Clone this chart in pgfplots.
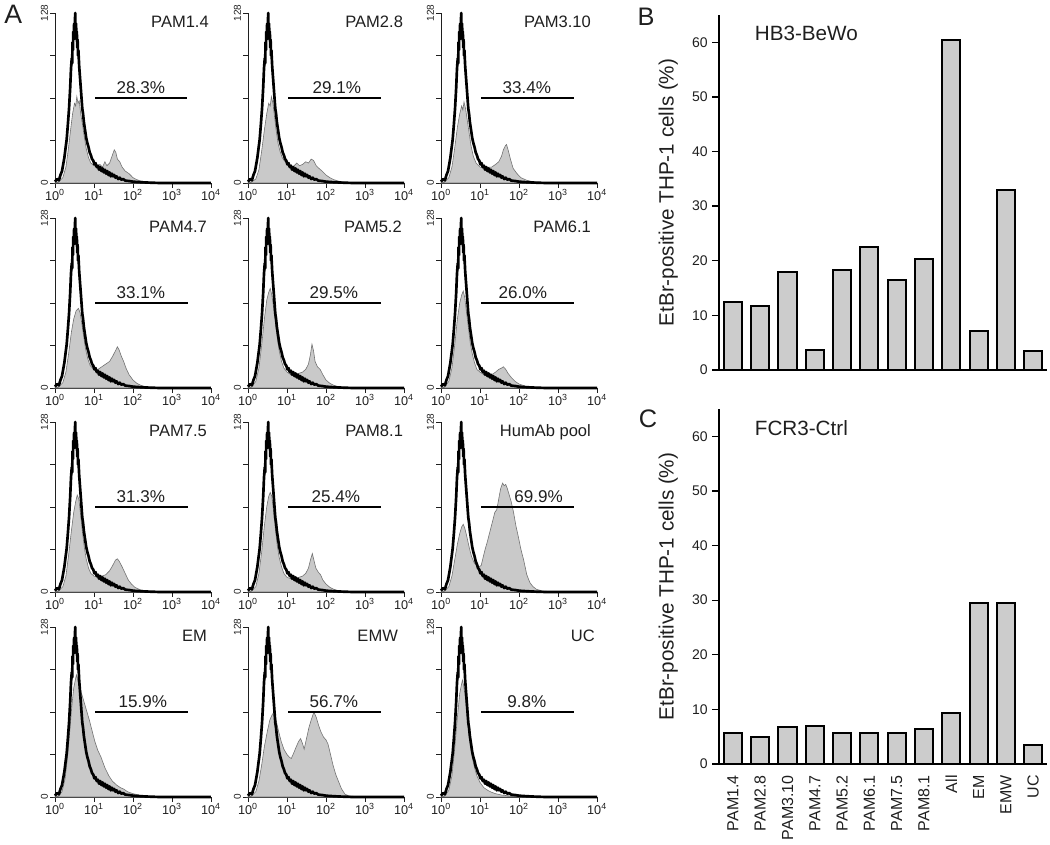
\documentclass[border=0pt]{standalone}
\usepackage{pgfplots}
\pgfplotsset{compat=1.18}
\usepackage{pgfplotstable}
\usepackage{fontspec}
\setmainfont{Liberation Sans}
\setsansfont{Liberation Sans}
\definecolor{bargrey}{gray}{0.80}
\definecolor{histgrey}{gray}{0.79}
\definecolor{txt}{gray}{0.12}

\pgfplotstableread{
x y
0.00 1
0.05 3
0.10 2
0.14 6
0.18 9
0.21 14
0.24 19
0.27 26
0.30 33
0.33 44
0.36 56
0.39 72
0.41 86
0.43 94
0.44 90
0.45 106
0.46 100
0.47 114
0.48 108
0.49 120
0.50 112
0.51 122
0.52 128
0.525 114
0.54 120
0.55 108
0.56 114
0.57 102
0.58 108
0.59 96
0.60 100
0.62 88
0.64 80
0.66 72
0.68 64
0.70 56
0.72 52
0.74 46
0.76 42
0.78 38
0.80 34
0.83 30
0.86 27
0.89 23
0.92 21
0.95 18
0.98 17
1.01 14
1.04 15
1.07 12
1.10 13
1.13 10
1.16 12
1.19 9
1.22 11
1.25 8
1.28 10
1.31 7
1.34 9
1.37 6
1.40 8
1.43 5
1.46 7
1.49 5
1.52 6
1.55 4
1.58 5
1.62 3
1.66 4
1.70 2.5
1.75 3
1.80 1.8
1.90 1.5
2.00 1
2.20 0.6
2.40 0.3
2.70 0
4.00 0
}\ctrltab

\pgfplotstableread{
x y
0.00 0
0.10 1
0.20 4
0.28 12
0.34 25
0.40 40
0.45 52
0.50 60
0.53 58
0.56 65
0.59 60
0.62 62
0.66 52
0.70 45
0.75 35
0.80 26
0.86 19
0.92 15
1.00 13
1.08 12
1.15 14
1.22 12
1.28 16
1.33 13
1.40 15
1.46 20
1.52 25
1.56 23
1.60 18
1.66 16
1.72 12
1.80 9
1.90 7
2.00 4
2.10 2.5
2.20 1.5
2.35 0.8
2.60 0.3
3.00 0
4.00 0
}\tabA

\pgfplotstableread{
x y
0.00 0
0.10 1
0.20 3
0.28 10
0.35 24
0.42 40
0.48 52
0.53 60
0.57 58
0.60 65
0.64 60
0.68 50
0.72 40
0.77 30
0.82 24
0.88 19
0.95 16
1.05 14
1.15 12
1.25 15
1.32 13
1.40 14
1.48 16
1.55 15
1.62 18
1.68 17
1.75 13
1.82 11
1.90 9
2.00 6
2.10 4
2.20 2.5
2.35 1.2
2.50 0.5
2.80 0.2
3.20 0
4.00 0
}\tabB

\pgfplotstableread{
x y
0.00 0
0.10 1
0.20 4
0.28 12
0.35 26
0.42 42
0.48 52
0.53 58
0.56 55
0.59 61
0.63 56
0.67 48
0.72 38
0.77 28
0.83 20
0.90 15
1.00 12
1.10 11
1.20 12
1.30 12
1.40 14
1.48 16
1.55 20
1.60 25
1.65 28
1.68 29
1.72 25
1.78 18
1.85 11
1.95 7
2.05 4
2.20 2
2.40 0.8
2.60 0.3
3.00 0
4.00 0
}\tabC

\pgfplotstableread{
x y
0.00 0
0.10 1
0.20 4
0.28 12
0.35 26
0.42 42
0.48 52
0.54 58
0.60 60
0.64 57
0.68 50
0.73 40
0.78 30
0.84 22
0.90 17
1.00 14
1.10 14
1.20 16
1.30 18
1.40 20
1.48 24
1.55 28
1.60 31
1.64 29
1.70 24
1.76 20
1.82 15
1.90 10
2.00 6
2.10 3.5
2.20 2
2.35 0.8
2.60 0.3
3.00 0
4.00 0
}\tabD

\pgfplotstableread{
x y
0.00 0
0.10 1
0.20 5
0.28 15
0.35 32
0.42 52
0.48 66
0.53 72
0.57 75
0.61 70
0.65 62
0.70 50
0.75 38
0.80 28
0.86 20
0.92 15
1.00 12
1.10 10
1.20 10
1.30 11
1.40 12
1.48 14
1.55 18
1.60 25
1.64 33
1.68 28
1.72 20
1.78 16
1.85 14
1.92 10
2.00 6
2.10 3.5
2.20 2
2.35 0.8
2.60 0.3
3.00 0
4.00 0
}\tabE

\pgfplotstableread{
x y
0.00 0
0.10 1
0.20 5
0.28 15
0.35 32
0.42 52
0.48 64
0.53 70
0.57 73
0.61 68
0.65 58
0.70 46
0.75 34
0.80 26
0.86 19
0.92 14
1.00 12
1.10 10
1.20 11
1.30 10
1.40 12
1.48 14
1.55 15
1.60 16
1.66 14
1.72 11
1.80 8
1.90 5
2.00 3
2.15 1.5
2.30 0.7
2.60 0.2
3.00 0
4.00 0
}\tabF

\pgfplotstableread{
x y
0.00 0
0.10 1
0.20 4
0.28 12
0.35 28
0.42 46
0.48 60
0.53 68
0.57 73
0.61 70
0.65 60
0.70 46
0.75 34
0.80 25
0.86 18
0.92 14
1.00 12
1.10 11
1.20 12
1.30 13
1.40 16
1.48 20
1.55 24
1.60 25
1.65 23
1.72 19
1.80 14
1.88 9
1.96 6
2.05 3.5
2.20 1.5
2.40 0.6
2.70 0.2
3.00 0
4.00 0
}\tabG

\pgfplotstableread{
x y
0.00 0
0.10 1
0.20 4
0.28 14
0.35 30
0.42 50
0.48 64
0.53 72
0.57 75
0.61 72
0.65 62
0.70 48
0.75 35
0.80 26
0.86 19
0.92 14
1.00 11
1.10 10
1.20 10
1.30 11
1.40 12
1.48 14
1.55 18
1.60 24
1.65 29
1.69 24
1.74 18
1.80 15
1.86 13
1.92 9
2.00 6
2.10 3.5
2.20 2
2.35 0.8
2.60 0.3
3.00 0
4.00 0
}\tabH

\pgfplotstableread{
x y
0.00 0
0.10 1
0.20 4
0.28 12
0.35 24
0.42 36
0.48 44
0.53 49
0.57 51
0.61 48
0.66 42
0.72 34
0.78 27
0.85 22
0.92 20
0.98 19
1.03 20
1.08 26
1.13 32
1.18 37
1.25 45
1.32 53
1.38 60
1.43 62
1.48 70
1.53 78
1.58 82
1.62 80
1.66 81
1.70 78
1.74 74
1.80 68
1.86 60
1.92 50
1.98 42
2.05 32
2.12 24
2.20 13
2.28 7
2.36 4
2.45 2
2.60 0.8
2.80 0.3
3.10 0
4.00 0
}\tabI

\pgfplotstableread{
x y
0.00 0
0.10 1
0.18 4
0.26 14
0.32 30
0.38 50
0.43 68
0.48 82
0.52 88
0.55 92
0.60 86
0.66 80
0.72 74
0.80 66
0.88 58
0.95 50
1.02 42
1.10 35
1.18 30
1.28 22
1.38 16
1.47 12
1.58 9
1.68 7
1.76 6
1.86 4
2.00 2.5
2.20 1.2
2.50 0.4
3.00 0
4.00 0
}\tabJ

\pgfplotstableread{
x y
0.00 0
0.10 1
0.20 4
0.28 12
0.35 24
0.42 38
0.50 50
0.56 58
0.62 62
0.67 64
0.72 58
0.78 50
0.85 42
0.92 36
1.00 32
1.06 30
1.11 29
1.17 33
1.24 38
1.30 42
1.35 44
1.40 40
1.44 36
1.50 44
1.56 52
1.62 58
1.69 64
1.75 60
1.81 54
1.87 49
1.94 45
2.00 43
2.05 40
2.10 34
2.18 24
2.25 17
2.31 12.5
2.40 6
2.49 2
2.60 0.8
2.80 0.3
3.10 0
4.00 0
}\tabK

\pgfplotstableread{
x y
0.00 0
0.10 1
0.20 5
0.28 16
0.35 36
0.42 60
0.48 78
0.52 84
0.55 88
0.58 84
0.62 76
0.66 64
0.70 52
0.75 40
0.80 30
0.86 22
0.92 16
1.00 11
1.10 7
1.20 5
1.30 3.5
1.40 2.5
1.55 1.5
1.70 1
1.90 0.5
2.20 0.2
2.60 0
4.00 0
}\tabL

\pgfplotstableread{
x y
0 12.4
1 11.8
2 17.9
3 3.7
4 18.3
5 22.5
6 16.4
7 20.3
8 60.4
9 7.1
10 32.9
11 3.5
}\barsB

\pgfplotstableread{
x y
0 5.7
1 4.9
2 6.8
3 7.0
4 5.7
5 5.6
6 5.7
7 6.4
8 9.3
9 29.5
10 29.5
11 3.5
}\barsC

\tikzset{
  greyh/.style={fill=histgrey, draw=black!55, line width=0.45pt},
  ctrlh/.style={black, line width=2pt, line join=round},
  gateh/.style={black, line width=1.7pt},
  pctlab/.style={anchor=base, inner sep=0pt, font=\fontsize{12.8}{14}\selectfont, text=txt},
  namelab/.style={anchor=base east, inner sep=0pt, font=\fontsize{12.4}{13}\selectfont, text=txt},
}

\pgfplotsset{
  /pgf/number format/assume math mode=true,
  hist/.style={
    anchor=south west, scale only axis,
    width=117pt, height=127.5pt,
    xmin=0, xmax=4, ymin=0, ymax=128,
    axis lines=left, axis line style={-, line width=0.7pt, draw=txt},
    clip=false,
    xtick={0,1,2,3,4},
    xticklabels={10\textsuperscript{0},10\textsuperscript{1},10\textsuperscript{2},10\textsuperscript{3},10\textsuperscript{4}},
    ytick={0,128}, minor ytick={32,64,96},
    tick align=outside, major tick length=3.5pt, minor tick length=3.5pt,
    tick style={line width=0.6pt, draw=txt},
    xticklabel style={font=\fontsize{9.5}{10}\selectfont, text=txt, inner sep=1pt},
    yticklabel style={rotate=90, anchor=south, font=\fontsize{7.5}{8}\selectfont, text=txt, inner sep=1.5pt},
  },
  barax/.style={
    anchor=south west, scale only axis,
    width=246pt, height=266.25pt,
    xmin=-0.51, xmax=11.51, ymin=0, ymax=65,
    axis lines=left, axis line style={-, line width=1.4pt},
    ytick={0,10,20,30,40,50,60},
    tick align=outside, major tick length=5pt,
    tick style={line width=1pt, black},
    yticklabel style={font=\fontsize{10.5}{11}\selectfont, text=txt},
    ylabel={EtBr-positive THP-1 cells (\%)},
    ylabel style={at={(axis description cs:-0.155,0.5)}, anchor=center, font=\fontsize{15.5}{16}\selectfont, text=txt},
    ybar, bar width=0.66,
  },
}

\begin{document}
\begin{tikzpicture}
  % ---- row 1
  \begin{axis}[hist, at={(41.25pt,-137.25pt)}]
    \addplot[greyh] table {\tabA} \closedcycle;
    \addplot[ctrlh] table {\ctrltab};
    \addplot[gateh] coordinates {(1.03,64) (3.38,64)};
    \node[pctlab] at (axis cs:2.2,67.5) {28.3\%};
    \node[namelab] at (axis cs:3.95,117) {PAM1.4};
  \end{axis}
  \begin{axis}[hist, at={(186pt,-137.25pt)}]
    \addplot[greyh] table {\tabB} \closedcycle;
    \addplot[ctrlh] table {\ctrltab};
    \addplot[gateh] coordinates {(1.03,64) (3.40,64)};
    \node[pctlab] at (axis cs:2.28,67.5) {29.1\%};
    \node[namelab] at (axis cs:3.98,117) {PAM2.8};
  \end{axis}
  \begin{axis}[hist, at={(330.75pt,-137.25pt)}]
    \addplot[greyh] table {\tabC} \closedcycle;
    \addplot[ctrlh] table {\ctrltab};
    \addplot[gateh] coordinates {(1.03,64) (3.40,64)};
    \node[pctlab] at (axis cs:2.2,67.5) {33.4\%};
    \node[namelab] at (axis cs:3.85,117) {PAM3.10};
  \end{axis}
  % ---- row 2
  \begin{axis}[hist, at={(41.25pt,-291pt)}]
    \addplot[greyh] table {\tabD} \closedcycle;
    \addplot[ctrlh] table {\ctrltab};
    \addplot[gateh] coordinates {(1.03,64) (3.40,64)};
    \node[pctlab] at (axis cs:2.2,67.5) {33.1\%};
    \node[namelab] at (axis cs:3.9,117) {PAM4.7};
  \end{axis}
  \begin{axis}[hist, at={(186pt,-291pt)}]
    \addplot[greyh] table {\tabE} \closedcycle;
    \addplot[ctrlh] table {\ctrltab};
    \addplot[gateh] coordinates {(1.03,64) (3.40,64)};
    \node[pctlab] at (axis cs:2.2,67.5) {29.5\%};
    \node[namelab] at (axis cs:3.95,117) {PAM5.2};
  \end{axis}
  \begin{axis}[hist, at={(330.75pt,-291pt)}]
    \addplot[greyh] table {\tabF} \closedcycle;
    \addplot[ctrlh] table {\ctrltab};
    \addplot[gateh] coordinates {(1.03,64) (3.40,64)};
    \node[pctlab] at (axis cs:2.1,67.5) {26.0\%};
    \node[namelab] at (axis cs:3.85,117) {PAM6.1};
  \end{axis}
  % ---- row 3
  \begin{axis}[hist, at={(41.25pt,-444pt)}]
    \addplot[greyh] table {\tabG} \closedcycle;
    \addplot[ctrlh] table {\ctrltab};
    \addplot[gateh] coordinates {(1.03,64) (3.40,64)};
    \node[pctlab] at (axis cs:2.2,67.5) {31.3\%};
    \node[namelab] at (axis cs:3.9,117) {PAM7.5};
  \end{axis}
  \begin{axis}[hist, at={(186pt,-444pt)}]
    \addplot[greyh] table {\tabH} \closedcycle;
    \addplot[ctrlh] table {\ctrltab};
    \addplot[gateh] coordinates {(1.03,64) (3.40,64)};
    \node[pctlab] at (axis cs:2.25,67.5) {25.4\%};
    \node[namelab] at (axis cs:3.98,117) {PAM8.1};
  \end{axis}
  \begin{axis}[hist, at={(330.75pt,-444pt)}]
    \addplot[greyh] table {\tabI} \closedcycle;
    \addplot[ctrlh] table {\ctrltab};
    \addplot[gateh] coordinates {(1.03,64) (3.42,64)};
    \node[pctlab] at (axis cs:2.5,67.5) {69.9\%};
    \node[namelab] at (axis cs:3.85,117) {HumAb pool};
  \end{axis}
  % ---- row 4
  \begin{axis}[hist, at={(41.25pt,-597.75pt)}]
    \addplot[greyh] table {\tabJ} \closedcycle;
    \addplot[ctrlh] table {\ctrltab};
    \addplot[gateh] coordinates {(1.03,64) (3.40,64)};
    \node[pctlab] at (axis cs:2.25,67.5) {15.9\%};
    \node[namelab] at (axis cs:3.9,117) {EM};
  \end{axis}
  \begin{axis}[hist, at={(186pt,-597.75pt)}]
    \addplot[greyh] table {\tabK} \closedcycle;
    \addplot[ctrlh] table {\ctrltab};
    \addplot[gateh] coordinates {(1.03,64) (3.42,64)};
    \node[pctlab] at (axis cs:2.2,67.5) {56.7\%};
    \node[namelab] at (axis cs:3.85,117) {EMW};
  \end{axis}
  \begin{axis}[hist, at={(330.75pt,-597.75pt)}]
    \addplot[greyh] table {\tabL} \closedcycle;
    \addplot[ctrlh] table {\ctrltab};
    \addplot[gateh] coordinates {(1.03,64) (3.42,64)};
    \node[pctlab] at (axis cs:2.2,67.5) {9.8\%};
    \node[namelab] at (axis cs:3.95,117) {UC};
  \end{axis}

  % ---- B
  \begin{axis}[barax, at={(539.25pt,-277.5pt)}, xtick=\empty]
    \addplot[fill=bargrey, draw=black, line width=1.5pt] table {\barsB};
    \node[anchor=west, font=\fontsize{15.5}{16}\selectfont, text=txt] at (axis description cs:0.095,0.949) {HB3-BeWo};
  \end{axis}
  % ---- C
  \begin{axis}[barax, at={(539.25pt,-573pt)},
      xtick={0,1,2,3,4,5,6,7,8,9,10,11},
      xticklabels={PAM1.4,PAM2.8,PAM3.10,PAM4.7,PAM5.2,PAM6.1,PAM7.5,PAM8.1,All,EM,EMW,UC},
      major x tick style={draw=none},
      xticklabel style={rotate=90, anchor=east, font=\fontsize{12}{13}\selectfont, text=txt}]
    \addplot[fill=bargrey, draw=black, line width=1.5pt] table {\barsC};
    \node[anchor=west, font=\fontsize{15.5}{16}\selectfont, text=txt] at (axis description cs:0.095,0.946) {FCR3-Ctrl};
  \end{axis}

  \node[font=\fontsize{20}{22}\selectfont, text=txt] at (10pt,-10.5pt) {A};
  \node[font=\fontsize{19}{21}\selectfont, text=txt] at (484.5pt,-12.75pt) {B};
  \node[font=\fontsize{19}{21}\selectfont, text=txt] at (486pt,-314.25pt) {C};

  \pgfresetboundingbox
  \path (0,0) rectangle (787.5pt,-633pt);
\end{tikzpicture}
\end{document}
